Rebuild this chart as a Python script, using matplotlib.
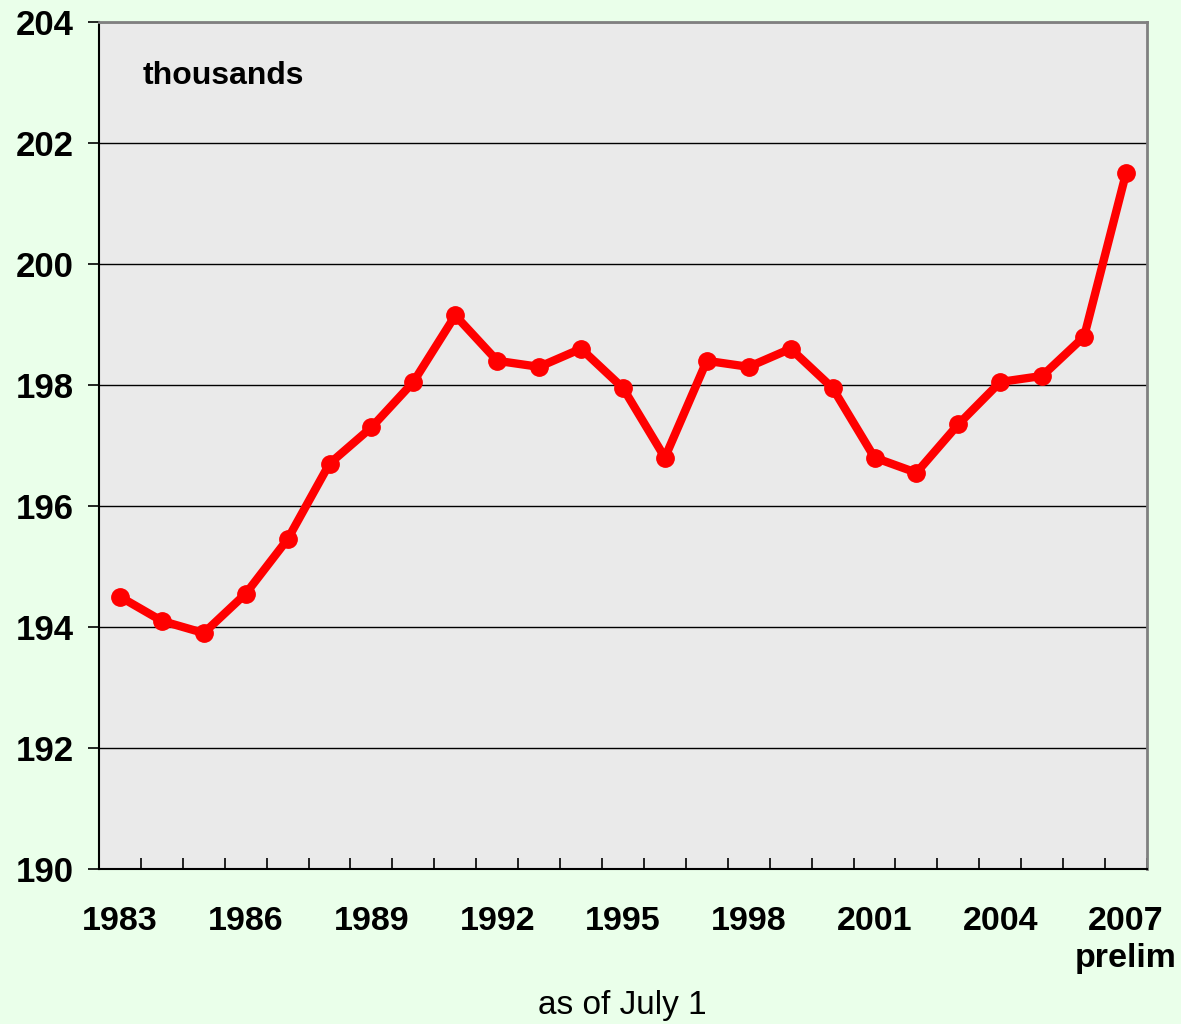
import matplotlib
matplotlib.use("Agg")
import matplotlib.pyplot as plt

# population, thousands (as of July 1)
years = list(range(1983, 2008))
values = [194.5, 194.1, 193.9, 194.55, 195.45, 196.7, 197.3, 198.05, 199.15, 198.4,
          198.3, 198.6, 197.95, 196.8, 198.4, 198.3, 198.6, 197.95, 196.8, 196.55,
          197.35, 198.05, 198.15, 198.8, 201.5]
tick_years = [1983, 1986, 1989, 1992, 1995, 1998, 2001, 2004, 2007]
tick_labels = ["1983", "1986", "1989", "1992", "1995", "1998", "2001", "2004", "2007\nprelim"]
y_ticks = [190, 192, 194, 196, 198, 200, 202, 204]

plt.rcParams['font.family'] = ['Liberation Sans', 'DejaVu Sans']

fig = plt.figure(figsize=(11.81, 10.24), dpi=100, facecolor="#EAFFEA")
ax = fig.add_axes([0.0838, 0.1514, 0.8874, 0.8271])
ax.set_facecolor("#EAEAEA")

x = list(range(len(years)))
ax.plot(x, values, color="#FF0000", linewidth=6, marker="o", markersize=12.5,
        solid_joinstyle="round", zorder=3)

ax.set_xlim(-0.5, len(years) - 0.5)
ax.set_ylim(190, 204)

# category labels at centres, tick marks at boundaries
ax.set_xticks([years.index(y) for y in tick_years])
ax.set_xticklabels(tick_labels, fontsize=24.5, fontweight="bold", linespacing=1.22)
ax.set_xticks([i - 0.5 for i in range(len(years) + 1)], minor=True)
ax.tick_params(axis="x", which="major", length=0, pad=27)
ax.tick_params(axis="x", which="minor", direction="in", length=8, width=1.2, color="black")

ax.set_yticks(y_ticks)
ax.set_yticklabels([str(v) for v in y_ticks], fontsize=25, fontweight="bold")
ax.tick_params(axis="y", direction="out", length=8, width=1.2, pad=10)
ax.yaxis.grid(True, color="black", linewidth=1.0)
ax.set_axisbelow(True)

for side in ["top", "right"]:
    ax.spines[side].set_color("#808080")
    ax.spines[side].set_linewidth(2)
for side in ["left", "bottom"]:
    ax.spines[side].set_color("black")
    ax.spines[side].set_linewidth(1.5)

ax.text(0.042, 0.936, "thousands", transform=ax.transAxes, fontsize=23,
        fontweight="bold", va="center", ha="left")
fig.text(0.527, 0.018, "as of July 1", fontsize=24, ha="center", va="center")

fig.savefig("out.png", dpi=100, facecolor=fig.get_facecolor())
